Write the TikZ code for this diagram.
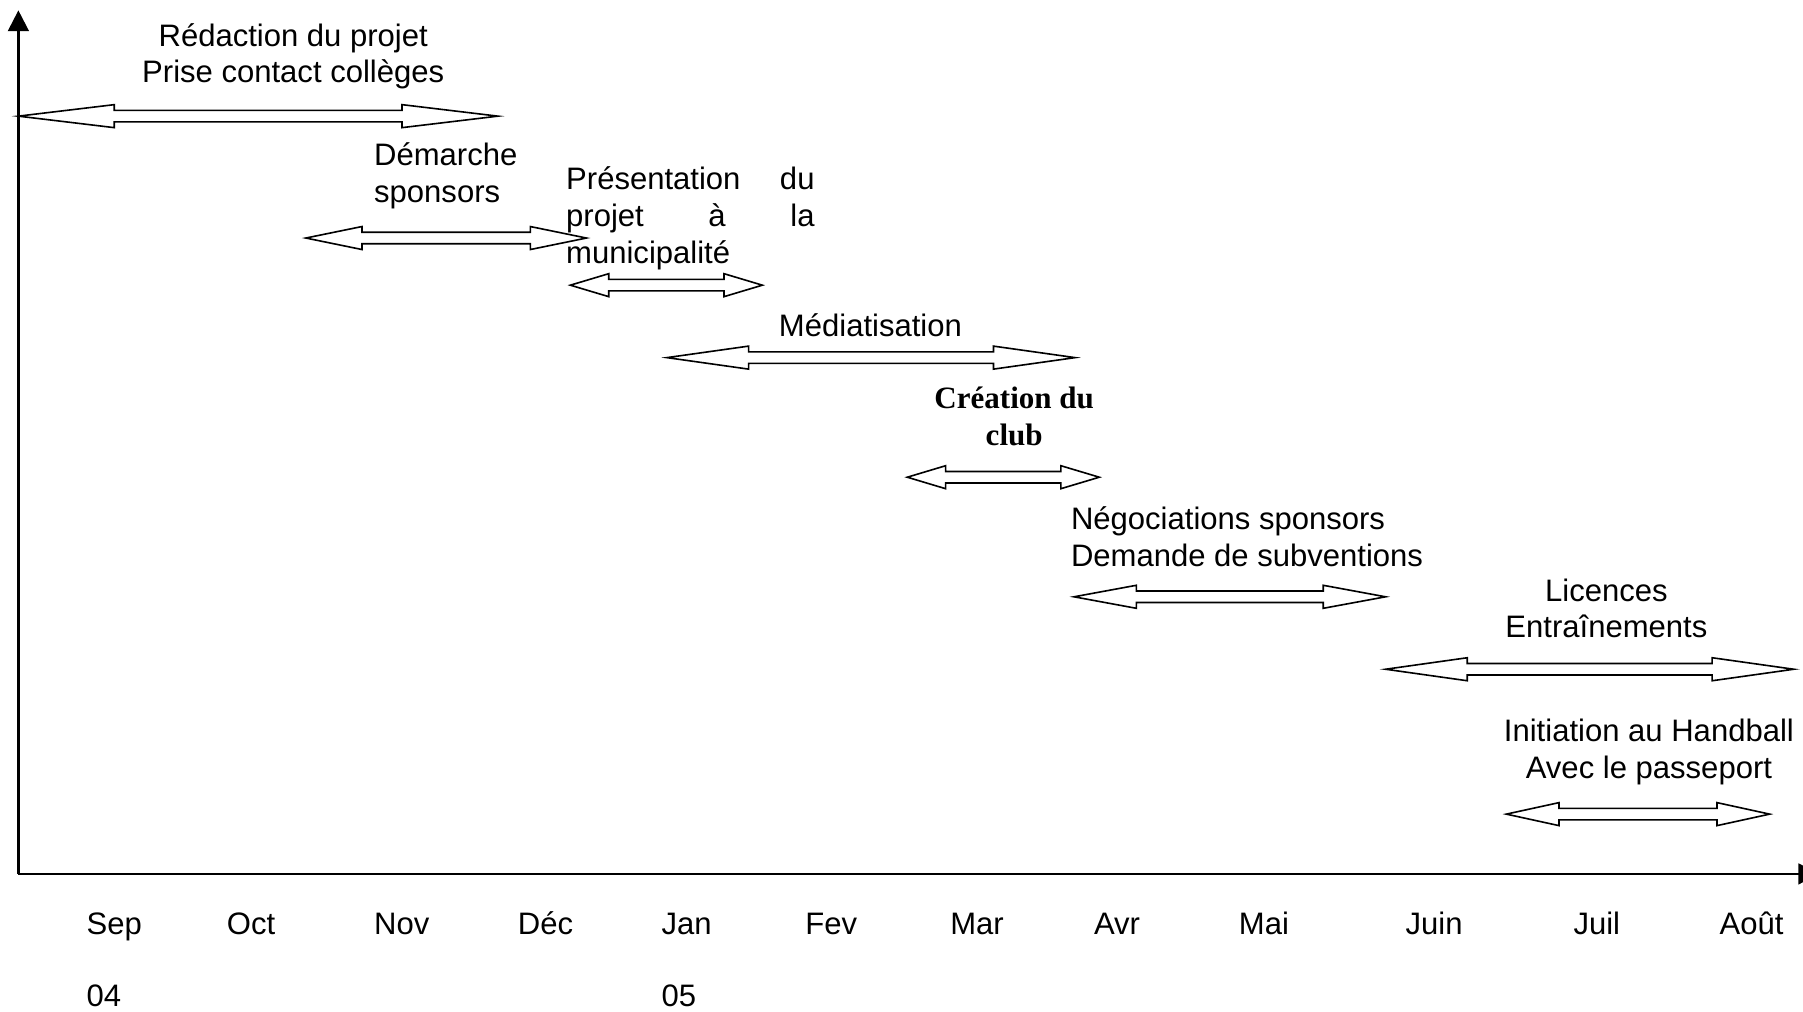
\documentclass[tikz,border=0pt]{standalone}
\usepackage{fontspec}
\setmainfont{Liberation Sans}
\newfontfamily\timesfont{Liberation Serif}
\usetikzlibrary{arrows.meta}

% fleche double : debut, fin, hauteur (pointes = 1/5 de la longueur)
\newcommand{\periode}[4]{%
  \draw[line width=0.7pt, fill=white] (#1,#3)
    -- ({#1+0.2*(#2-#1)},#3-10) -- ({#1+0.2*(#2-#1)},#3-5)
    -- ({#2-0.2*(#2-#1)},#3-5) -- ({#2-0.2*(#2-#1)},#3-10)
    -- (#2,#3)
    -- ({#2-0.2*(#2-#1)},#3+10) -- ({#2-0.2*(#2-#1)},#3+5)
    -- ({#1+0.2*(#2-#1)},#3+5) -- ({#1+0.2*(#2-#1)},#3+10)
    -- cycle;
  \coordinate (#4-g) at (#1,#3);
  \coordinate (#4-d) at (#2,#3);}

\begin{document}
\begin{tikzpicture}[x=0.5pt, y=-0.5pt,
    lbl/.style={inner sep=0pt, font=\fontsize{13.5pt}{16pt}\selectfont},
    mois/.style={lbl, anchor=base west}]
  \useasboundingbox (0,0) rectangle (1568,880);

  % Axes
  \coordinate (O) at (16,760);
  \coordinate (haut) at (16,9);
  \coordinate (droite) at (1582,760);
  \draw[line width=1pt, -{Triangle[width=9pt, length=9pt]}] (O) -- (haut);
  \draw[line width=1pt, -{Triangle[width=9pt, length=9pt]}] (O) -- (droite);

  % Periodes
  \periode{16}{433}{101}{redac}
  \periode{266}{510}{207}{demar}
  \periode{496}{663}{248}{pres}
  \periode{580}{935}{311}{media}
  \periode{789}{956}{415}{creat}
  \periode{934}{1205}{519}{nego}
  \periode{1205}{1560}{582}{lic}
  \periode{1310}{1539}{708}{init}

  % Textes
  \node[lbl, align=center] (t-redac) at (255,49) {Rédaction du projet\\Prise contact collèges};
  \node[lbl, align=left, anchor=west] (t-demar) at (325,153) {Démarche\\sponsors};
  \node[lbl, align=left, anchor=west, text width=108pt] (t-pres) at (492,190)
    {Présentation\hfill du\\projet\hfill à\hfill la\\municipalité};
  \node[lbl] (t-media) at (757,283) {Médiatisation};
  \node[lbl, align=center, font=\fontsize{13.5pt}{16pt}\timesfont\bfseries] (t-creat) at (882,362) {Création du\\club};
  \node[lbl, align=left, anchor=west] (t-nego) at (931,467) {Négociations sponsors\\Demande de subventions};
  \node[lbl, align=center] (t-lic) at (1397,529) {Licences\\Entraînements};
  \node[lbl, align=center] (t-init) at (1434,654) {Initiation au Handball\\Avec le passeport};

  % Mois
  \foreach \x/\m [count=\i] in {75/Sep, 197/Oct, 325/Nov, 450/Déc, 575/Jan, 700/Fev,
      826/Mar, 951/Avr, 1077/Mai, 1222/Juin, 1368/Juil, 1495/Août}
    \node[mois] (m\i) at (\x,813) {\m};
  \node[mois] (an1) at (75,875) {04};
  \node[mois] (an2) at (575,875) {05};
\end{tikzpicture}
\end{document}
